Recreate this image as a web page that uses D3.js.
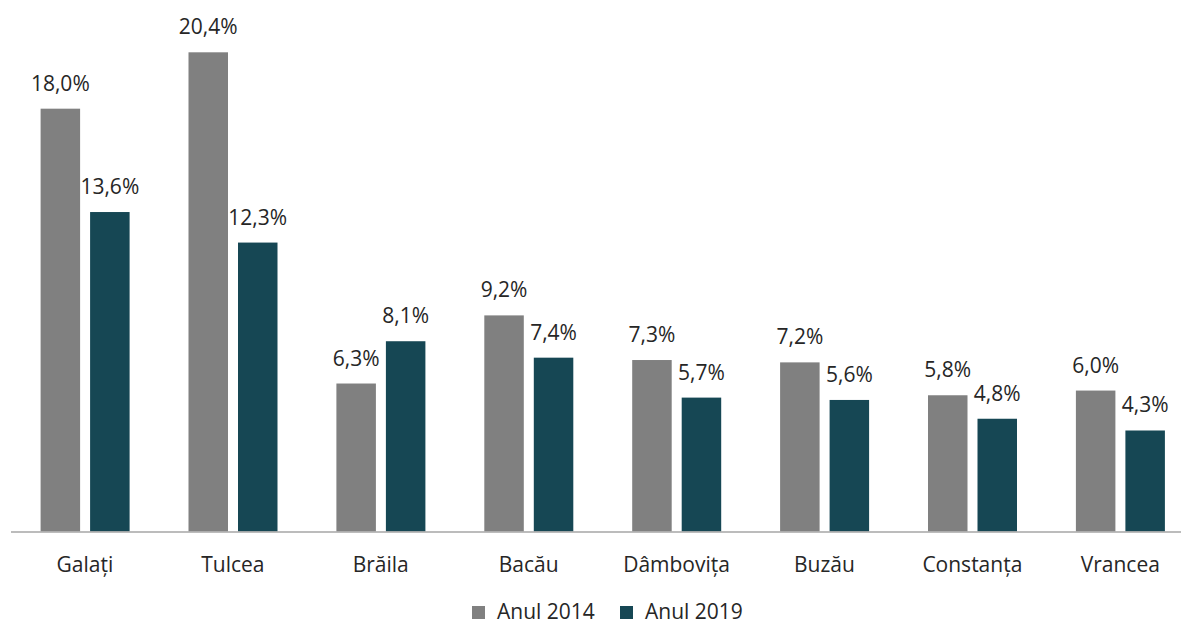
<!DOCTYPE html>
<html>
<head>
<meta charset="utf-8">
<script src="https://cdn.jsdelivr.net/npm/d3@7"></script>
<style>
  html, body { margin: 0; padding: 0; background: #fff; }
  svg { display: block; }
  text { font-family: "Open Sans", "Noto Sans", sans-serif; fill: #262626; }
</style>
</head>
<body>
<svg id="chart" width="1181" height="624"></svg>
<script>
const categories = ["Galați", "Tulcea", "Brăila", "Bacău", "Dâmbovița", "Buzău", "Constanța", "Vrancea"];
const seriesNames = ["Anul 2014", "Anul 2019"];
const values2014 = [18.0, 20.4, 6.3, 9.2, 7.3, 7.2, 5.8, 6.0];
const values2019 = [13.6, 12.3, 8.1, 7.4, 5.7, 5.6, 4.8, 4.3];
const colors = ["#808080", "#164754"];

const series = [values2014, values2019];
const svg = d3.select("#chart");
const fontSize = 21;

const x0 = d3.scaleBand().domain(categories).range([11, 11 + 8 * 147.9]).paddingInner(0).paddingOuter(0);
const x1 = d3.scaleBand().domain(seriesNames).range([29.6, 118.6]).paddingInner(0.202).paddingOuter(0);
const y = d3.scaleLinear().domain([0, 20.4]).range([531.5, 52.3]);

const fmt = v => v.toFixed(1).replace(".", ",") + "%";

const groups = svg.selectAll("g.cat").data(categories).enter().append("g")
  .attr("class", "cat")
  .attr("transform", d => `translate(${x0(d)},0)`);

seriesNames.forEach((s, si) => {
  groups.append("rect")
    .attr("x", x1(s))
    .attr("width", x1.bandwidth())
    .attr("y", (d, i) => y(series[si][i]))
    .attr("height", (d, i) => y(0) - y(series[si][i]))
    .attr("fill", colors[si]);
  groups.append("text")
    .attr("x", x1(s) + x1.bandwidth() / 2)
    .attr("y", (d, i) => y(series[si][i]) - 18)
    .attr("text-anchor", "middle")
    .attr("font-size", fontSize)
    .text((d, i) => fmt(series[si][i]));
});

// axis
const axis = d3.axisBottom(x0).tickSize(0).tickPadding(0);
const ag = svg.append("g").attr("transform", `translate(0,${y(0)})`).call(axis);
ag.select(".domain").attr("d", `M11,0.5H1181`).attr("stroke", "#a6a6a6").attr("stroke-width", 1.3);
ag.selectAll(".tick text")
  .attr("y", 40)
  .attr("dy", 0)
  .attr("font-size", fontSize)
  .attr("font-family", "'Open Sans', 'Noto Sans', sans-serif")
  .attr("fill", "#262626");

// legend
const legendItems = [{name: seriesNames[0], x: 472}, {name: seriesNames[1], x: 620}];
const lg = svg.append("g");
legendItems.forEach((it, i) => {
  lg.append("rect").attr("x", it.x).attr("y", 606).attr("width", 13).attr("height", 13).attr("fill", colors[i]);
  lg.append("text").attr("x", it.x + 25).attr("y", 618.5).attr("font-size", fontSize).text(it.name);
});
</script>
</body>
</html>
